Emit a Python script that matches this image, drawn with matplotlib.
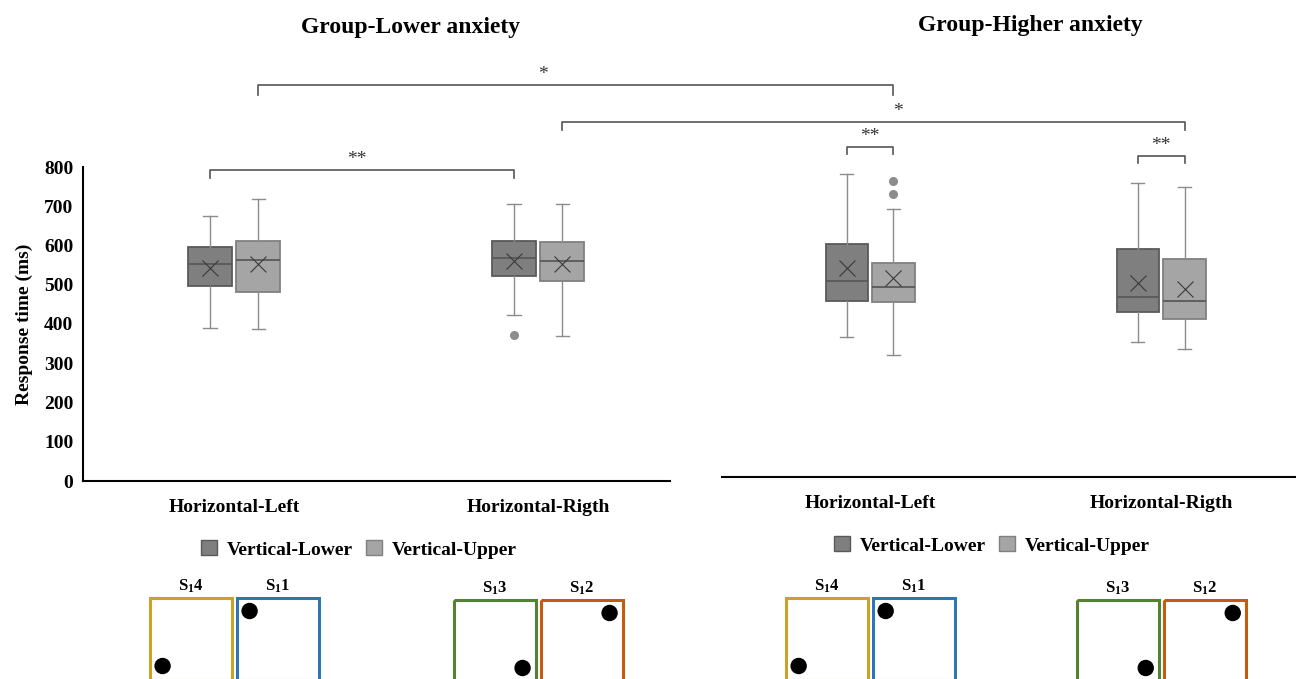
import matplotlib.pyplot as plt
from matplotlib.patches import Rectangle, Circle, Patch

plt.rcParams['font.family'] = ['Liberation Serif', 'DejaVu Serif']
plt.rcParams['mathtext.fontset'] = 'custom'
plt.rcParams['mathtext.rm'] = 'Liberation Serif'
plt.rcParams['mathtext.bf'] = 'Liberation Serif:bold'

categories = ["Horizontal-Left", "Horizontal-Rigth"]
series = ["Vertical-Lower", "Vertical-Upper"]
groups = ["Group-Lower anxiety", "Group-Higher anxiety"]

# five-number summaries (ms)
low_lower_whislo = [389, 423]
low_lower_q1 = [498, 523]
low_lower_med = [552, 567]
low_lower_q3 = [595, 611]
low_lower_whishi = [675, 707]
low_lower_mean = [542, 560]
low_lower_fliers = [[], [372]]

low_upper_whislo = [386, 369]
low_upper_q1 = [482, 509]
low_upper_med = [563, 561]
low_upper_q3 = [611, 608]
low_upper_whishi = [719, 705]
low_upper_mean = [553, 552]
low_upper_fliers = [[], []]

high_lower_whislo = [357, 344]
high_lower_q1 = [449, 420]
high_lower_med = [499, 459]
high_lower_q3 = [594, 580]
high_lower_whishi = [771, 748]
high_lower_mean = [532, 494]
high_lower_fliers = [[], []]

high_upper_whislo = [312, 327]
high_upper_q1 = [445, 402]
high_upper_med = [485, 449]
high_upper_q3 = [546, 555]
high_upper_whishi = [682, 739]
high_upper_mean = [508, 480]
high_upper_fliers = [[755, 720], []]

W, H = 1296, 679
fig = plt.figure(figsize=(W / 100, H / 100), dpi=100)

dark = '#7f7f7f'
light = '#a5a5a5'


def stats(whislo, q1, med, q3, whishi, mean, fliers):
    out = []
    for i in range(len(med)):
        out.append(dict(whislo=whislo[i], q1=q1[i], med=med[i], q3=q3[i],
                        whishi=whishi[i], mean=mean[i], fliers=fliers[i]))
    return out


def draw_boxes(ax, st, pos, face, edge):
    ax.bxp(st, positions=pos, widths=0.145, capwidths=0.045, showmeans=True,
           patch_artist=True, manage_ticks=False,
           boxprops=dict(facecolor=face, edgecolor=edge, linewidth=1.3),
           medianprops=dict(color='#595959', linewidth=1.3),
           whiskerprops=dict(color='#8c8c8c', linewidth=1.0),
           capprops=dict(color='#8c8c8c', linewidth=1.0),
           meanprops=dict(marker='x', markersize=12, markeredgecolor='#3a3a3a',
                          markeredgewidth=0.8),
           flierprops=dict(marker='o', markersize=5.5, markerfacecolor='#8c8c8c',
                           markeredgecolor='#8c8c8c'))


x = [1, 2]
off = 0.08

ax1 = fig.add_axes([83 / W, 1 - 481 / H, 587 / W, 314 / H])
ax1.set_xlim(0.503, 2.434)
ax1.set_ylim(0, 800)
draw_boxes(ax1, stats(low_lower_whislo, low_lower_q1, low_lower_med, low_lower_q3,
                      low_lower_whishi, low_lower_mean, low_lower_fliers),
           [p - off for p in x], dark, '#5a5a5a')
draw_boxes(ax1, stats(low_upper_whislo, low_upper_q1, low_upper_med, low_upper_q3,
                      low_upper_whishi, low_upper_mean, low_upper_fliers),
           [p + off for p in x], light, '#808080')
ax1.set_yticks(range(0, 801, 100))
ax1.set_ylabel("Response time (ms)", fontsize=14, fontweight='bold', labelpad=8)

ax2 = fig.add_axes([722 / W, 1 - 477 / H, 574 / W, 314 / H])
ax2.set_xlim(0.491, 2.463)
ax2.set_ylim(0, 800)
draw_boxes(ax2, stats(high_lower_whislo, high_lower_q1, high_lower_med, high_lower_q3,
                      high_lower_whishi, high_lower_mean, high_lower_fliers),
           [p - off for p in x], dark, '#5a5a5a')
draw_boxes(ax2, stats(high_upper_whislo, high_upper_q1, high_upper_med, high_upper_q3,
                      high_upper_whishi, high_upper_mean, high_upper_fliers),
           [p + off for p in x], light, '#808080')
ax2.set_yticks([])
ax2.spines['left'].set_visible(False)

for ax in (ax1, ax2):
    ax.spines['top'].set_visible(False)
    ax.spines['right'].set_visible(False)
    ax.spines['bottom'].set_linewidth(1.5)
    ax.spines['left'].set_linewidth(1.5)
    ax.set_xticks(x)
    ax.set_xticklabels(categories, fontsize=14, fontweight='bold')
    ax.tick_params(axis='x', length=0, pad=13)
    ax.tick_params(axis='y', length=0, pad=7, labelsize=14)
    for t in ax.get_yticklabels():
        t.set_fontweight('bold')
    ax.patch.set_alpha(0)
    handles = [Patch(facecolor=dark, edgecolor='#5a5a5a', label=series[0]),
               Patch(facecolor=light, edgecolor='#808080', label=series[1])]
    ax.legend(handles=handles, loc='center', bbox_to_anchor=(0.47, -0.218), ncol=2,
              frameon=False, prop=dict(size=14, weight='bold'),
              handlelength=0.8, handleheight=0.8, handletextpad=0.5, columnspacing=0.7)

fig.text(411 / W, 1 - 27 / H, groups[0], ha='center', va='center',
         fontsize=17, fontweight='bold')
fig.text(1030 / W, 1 - 25 / H, groups[1], ha='center', va='center',
         fontsize=17, fontweight='bold')

# overlay in image pixels for brackets and the location sketches
ov = fig.add_axes([0, 0, 1, 1])
ov.set_xlim(0, W)
ov.set_ylim(H, 0)
ov.axis('off')
ov.patch.set_alpha(0)


def px(ax, xv):
    return ax.transData.transform((xv, 0))[0]


def bracket(xa, xb, y, label, tx=None, leg=8):
    ov.plot([xa, xa, xb, xb], [y + leg, y, y, y + leg], color='#555555', lw=1.2)
    if tx is None:
        tx = (xa + xb) / 2
    ov.text(tx, y - 2, label, ha='center', va='bottom', fontsize=14,
            color='#333333')


bracket(px(ax1, 1 - off), px(ax1, 2 - off), 170, '**', tx=357)
bracket(px(ax1, 1 + off), px(ax2, 1 + off), 85, '*', tx=543, leg=10)
bracket(px(ax1, 2 + off), px(ax2, 2 + off), 122, '*', tx=898)
bracket(px(ax2, 1 - off), px(ax2, 1 + off), 147, '**', leg=7)
bracket(px(ax2, 2 - off), px(ax2, 2 + off), 156, '**', leg=7)

# stimulus location sketches under each category
sq = 82
pairs = [("4", '#c9a227', 'bl', "1", '#2e75b6', 'tl'),
         ("3", '#548235', 'br', "2", '#c55a11', 'tr')]
for ax in (ax1, ax2):
    for i, c in enumerate(x):
        cx = px(ax, c)
        la, ca, da, lb, cb, db = pairs[i]
        top = 598 if i == 0 else 600
        for x0, lab, col, dpos in [(cx - 2.5 - sq, la, ca, da), (cx + 2.5, lb, cb, db)]:
            ov.add_patch(Rectangle((x0, top), sq, sq, fill=False, edgecolor=col, lw=2.2))
            dx = x0 + 13 if dpos[1] == 'l' else x0 + sq - 13
            dy = top + 13 if dpos[0] == 't' else top + sq - 14
            ov.add_patch(Circle((dx, dy), 7.5, color='black'))
            ov.text(x0 + sq / 2, top - 3, r"$\mathbf{S_1" + lab + "}$", ha='center',
                    va='bottom', fontsize=12)

fig.savefig('out.png', dpi=100)
